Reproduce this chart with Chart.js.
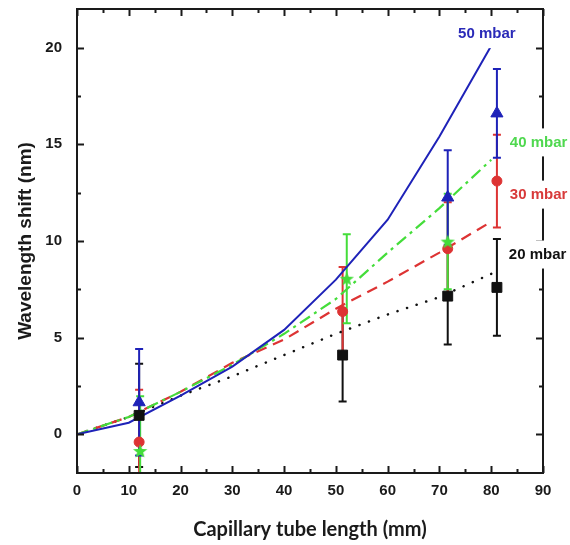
<!DOCTYPE html>
<html>
<head>
<meta charset="utf-8">
<script src="https://cdn.jsdelivr.net/npm/chart.js@4.4.0/dist/chart.umd.min.js"></script>
<style>
html,body{margin:0;padding:0;background:#fff;}
#wrap{width:570px;height:545px;}
</style>
</head>
<body>
<div id="wrap"><canvas id="grafico" width="570" height="545"></canvas></div>
<script>
// tick labels
var xTicks = [0, 10, 20, 30, 40, 50, 60, 70, 80, 90];
var yTicks = [0, 5, 10, 15, 20];

// fitted curves, x in mm
var fitX   = [0, 10, 20, 30, 40, 50, 60, 70, 80];
var fit20  = [0, 0.9, 2.0, 3.0, 4.1, 5.2, 6.2, 7.1, 8.3];
var fit30  = [0, 0.9, 2.2, 3.7, 4.9, 6.5, 7.9, 9.4, 11.0];
var fit40  = [0, 0.9, 2.2, 3.6, 5.2, 7.0, 9.4, 11.7, 14.2];
var fit50  = [0, 0.6, 2.0, 3.5, 5.4, 8.0, 11.1, 15.4, 20.1];

// measured points + error
var ptX20 = [12, 51.3, 71.6, 81.1];
var pt20  = [0.98, 4.1, 7.15, 7.6];
var er20  = [2.67, 2.4, 2.5, 2.5];

var ptX30 = [12, 51.3, 71.6, 81.1];
var pt30  = [-0.4, 6.35, 9.6, 13.1];
var er30  = [2.7, 2.3, 2.4, 2.4];

var ptX40 = [12.2, 52.1, 71.6];
var pt40  = [-0.86, 8.05, 9.97];
var er40  = [2.83, 2.3, 2.47];

var ptX50 = [12, 71.6, 81.1];
var pt50  = [1.66, 12.25, 16.6];
var er50  = [2.75, 2.44, 2.3];

var seriesNames = ['20 mbar', '30 mbar', '40 mbar', '50 mbar'];

var cNegro = '#111111';
var cRojo  = '#dd3333';
var cVerde = '#44dd3a';
var cAzul  = '#1e22b8';

function pares(xs, ys) {
  return xs.map(function(x, i) { return {x: x, y: ys[i]}; });
}

// estrella rellena para 40 mbar
function estrella(color) {
  var c = document.createElement('canvas');
  c.width = 16; c.height = 16;
  var g = c.getContext('2d');
  g.fillStyle = color;
  g.beginPath();
  for (var i = 0; i < 10; i++) {
    var r = (i % 2 == 0) ? 7.5 : 3.2;
    var a = -Math.PI / 2 + i * Math.PI / 5;
    var px = 8 + r * Math.cos(a), py = 8.5 + r * Math.sin(a);
    if (i == 0) g.moveTo(px, py); else g.lineTo(px, py);
  }
  g.closePath();
  g.fill();
  return c;
}

var errorBars = {
  id: 'errorBars',
  beforeDatasetsDraw: function(chart) {
    var ctx = chart.ctx, a = chart.chartArea;
    var xs = chart.scales.x, ys = chart.scales.y;
    ctx.save();
    ctx.beginPath();
    ctx.rect(a.left, a.top, a.right - a.left, a.bottom - a.top);
    ctx.clip();
    var dsets = chart.data.datasets.slice().reverse();
    dsets.forEach(function(ds) {
      if (!ds.errores) return;
      ctx.strokeStyle = ds.borderColor;
      ctx.lineWidth = 2;
      ds.data.forEach(function(p, i) {
        var px = xs.getPixelForValue(p.x);
        var t = ys.getPixelForValue(p.y + ds.errores[i]);
        var b = ys.getPixelForValue(p.y - ds.errores[i]);
        ctx.beginPath();
        ctx.moveTo(px, t); ctx.lineTo(px, b);
        ctx.moveTo(px - 4, t); ctx.lineTo(px + 4, t);
        ctx.moveTo(px - 4, b); ctx.lineTo(px + 4, b);
        ctx.stroke();
      });
    });
    ctx.restore();
  }
};

// marco con ticks hacia adentro + etiquetas de serie
var marco = {
  id: 'marco',
  afterDraw: function(chart) {
    var ctx = chart.ctx, a = chart.chartArea;
    var xs = chart.scales.x, ys = chart.scales.y;
    ctx.save();
    ctx.strokeStyle = '#1a1a1a';
    ctx.lineWidth = 2;
    ctx.strokeRect(a.left, a.top, a.right - a.left, a.bottom - a.top);
    ctx.beginPath();
    for (var v = 0; v <= 90; v += 5) {
      var px = Math.round(xs.getPixelForValue(v)) + 0.5;
      var len = (v % 10 == 0) ? 7 : 4;
      ctx.moveTo(px, a.bottom); ctx.lineTo(px, a.bottom - len);
      ctx.moveTo(px, a.top); ctx.lineTo(px, a.top + len);
    }
    for (var w = 0; w <= 20; w += 2.5) {
      var py = Math.round(ys.getPixelForValue(w)) + 0.5;
      var l2 = (w % 5 == 0) ? 7 : 4;
      ctx.moveTo(a.left, py); ctx.lineTo(a.left + l2, py);
      ctx.moveTo(a.right, py); ctx.lineTo(a.right - l2, py);
    }
    ctx.stroke();

    // etiquetas
    var etiquetas = [
      {t: seriesNames[3], x: 73.6, y: 20.7, c: '#2a2ab8'},
      {t: seriesNames[2], x: 83.6, y: 15.1, c: '#4fd84f'},
      {t: seriesNames[1], x: 83.6, y: 12.4, c: '#d83a3a'},
      {t: seriesNames[0], x: 83.4, y: 9.3,  c: '#111111'}
    ];
    ctx.font = 'bold 15px "Liberation Sans", Arial, sans-serif';
    ctx.textBaseline = 'middle';
    ctx.textAlign = 'left';
    etiquetas.forEach(function(e) {
      var lx = xs.getPixelForValue(e.x), ly = ys.getPixelForValue(e.y);
      var wdt = ctx.measureText(e.t).width;
      ctx.fillStyle = '#ffffff';
      ctx.fillRect(lx - 3, ly - 14, wdt + 6, 28);
      ctx.fillStyle = e.c;
      ctx.fillText(e.t, lx, ly);
    });
    ctx.restore();
  }
};

var fuenteTicks = {family: '"Liberation Sans", Arial, sans-serif', size: 15, weight: 'bold'};

var config = {
  type: 'scatter',
  data: {
    datasets: [
      {label: seriesNames[3], data: pares(ptX50, pt50), errores: er50, borderColor: cAzul, backgroundColor: cAzul,
       pointStyle: 'triangle', pointRadius: 7, borderWidth: 1},
      {label: seriesNames[2], data: pares(ptX40, pt40), errores: er40, borderColor: cVerde, backgroundColor: cVerde,
       pointStyle: estrella(cVerde), pointRadius: 8},
      {label: seriesNames[1], data: pares(ptX30, pt30), errores: er30, borderColor: cRojo, backgroundColor: cRojo,
       pointStyle: 'circle', pointRadius: 5, borderWidth: 1},
      {label: seriesNames[0], data: pares(ptX20, pt20), errores: er20, borderColor: cNegro, backgroundColor: cNegro,
       pointStyle: 'rect', pointRadius: 7, borderWidth: 1},

      {label: 'fit 50', data: pares(fitX, fit50), showLine: true, pointRadius: 0, borderColor: cAzul, borderWidth: 2},
      {label: 'fit 40', data: pares(fitX, fit40), showLine: true, pointRadius: 0, borderColor: cVerde, borderWidth: 2.2,
       borderDash: [12, 5, 3, 5]},
      {label: 'fit 30', data: pares(fitX, fit30), showLine: true, pointRadius: 0, borderColor: cRojo, borderWidth: 2.2,
       borderDash: [11, 7]},
      {label: 'fit 20', data: pares(fitX, fit20), showLine: true, pointRadius: 0, borderColor: cNegro, borderWidth: 2.5,
       borderDash: [0.1, 10], borderCapStyle: 'round'}
    ]
  },
  options: {
    responsive: false,
    animation: false,
    devicePixelRatio: 1,
    layout: {padding: {top: 7, right: 27, left: 0, bottom: 0}},
    plugins: {legend: {display: false}, tooltip: {enabled: false}},
    scales: {
      x: {
        type: 'linear', min: 0, max: 90,
        afterBuildTicks: function(s) { s.ticks = xTicks.map(function(v) { return {value: v}; }); },
        afterFit: function(s) { s.height = 72; s.paddingLeft = 0; s.paddingRight = 0; },
        grid: {display: false, drawTicks: false, tickLength: 0},
        border: {display: false},
        ticks: {font: fuenteTicks, color: '#1a1a1a', padding: 9, maxRotation: 0},
        title: {display: true, text: 'Capillary tube length (mm)', color: '#1a1a1a',
                font: {family: 'Lato, "Open Sans", sans-serif', size: 20, weight: 'bold'}, padding: {top: 0, bottom: 3}}
      },
      y: {
        type: 'linear', min: -2, max: 22,
        afterBuildTicks: function(s) { s.ticks = yTicks.map(function(v) { return {value: v}; }); },
        afterFit: function(s) { s.width = 77; s.paddingTop = 0; s.paddingBottom = 0; },
        grid: {display: false, drawTicks: false, tickLength: 0},
        border: {display: false},
        ticks: {font: fuenteTicks, color: '#1a1a1a', padding: 15},
        title: {display: true, text: 'Wavelength shift (nm)', color: '#1a1a1a',
                font: {family: '"Liberation Sans", Arial, sans-serif', size: 19, weight: 'bold'}, padding: {top: 14, bottom: 0}}
      }
    }
  },
  plugins: [errorBars, marco]
};

window.myChart = new Chart(document.getElementById('grafico'), config);
</script>
</body>
</html>
